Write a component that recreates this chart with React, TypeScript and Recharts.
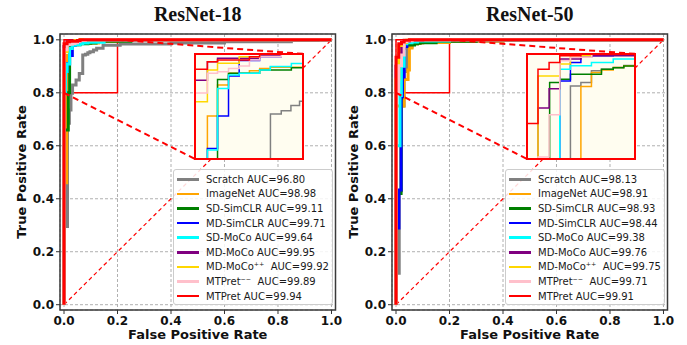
import React from "react";
import {
  LineChart,
  Line,
  XAxis,
  YAxis,
  CartesianGrid,
  ReferenceArea,
  ReferenceLine,
  Legend,
} from "recharts";

const SERIES_NAMES = [
  "Scratch",
  "ImageNet",
  "SD-SimCLR",
  "MD-SimCLR",
  "SD-MoCo",
  "MD-MoCo",
  "MD-MoCo⁺⁺",
  "MTPret⁻⁻",
  "MTPret",
];
const SERIES_COLORS = [
  "#808080",
  "#ffa500",
  "#008000",
  "#0000ff",
  "#00ffff",
  "#800080",
  "#ffd700",
  "#ffc0cb",
  "#ff0000",
];
const AUC_R18 = [96.8, 98.98, 99.11, 99.71, 99.64, 99.95, 99.92, 99.89, 99.94];
const AUC_R50 = [98.13, 98.91, 98.93, 98.44, 99.38, 99.76, 99.75, 99.71, 99.91];
const TICKS = [0, 0.2, 0.4, 0.6, 0.8, 1.0];

// ROC points [fpr, tpr], step-after: at fpr the curve jumps up to tpr
const R18_SCRATCH = [[0, 0], [0, 0.295], [0.013, 0.685], [0.02, 0.735], [0.026, 0.798], [0.032, 0.829], [0.045, 0.848], [0.057, 0.873], [0.07, 0.943], [0.08, 0.946], [0.089, 0.951], [0.097, 0.955], [0.11, 0.962], [0.122, 0.968], [0.146, 0.98], [0.21, 0.984], [0.4, 0.988], [0.6, 0.993], [0.85, 0.997], [0.95, 1], [1, 1]];
const R18_IMAGENET = [[0, 0], [0, 0.46], [0.01, 0.89], [0.0115, 0.941], [0.0209, 0.9705], [0.0311, 0.9816], [0.0505, 0.9841], [0.06, 0.9863], [0.07, 0.9873], [0.1, 0.988], [0.13, 0.995], [0.2, 1], [1, 1]];
const R18_SD_SIMCLR = [[0, 0], [0, 0.66], [0.016, 0.8], [0.0209, 0.9758], [0.0311, 0.9816], [0.06, 0.9848], [0.0894, 0.987], [0.1, 0.988], [0.12, 0.995], [0.25, 1], [1, 1]];
const R18_MD_SIMCLR = [[0, 0], [0, 0.8], [0.006, 0.88], [0.0115, 0.9101], [0.0209, 0.941], [0.0311, 0.979], [0.041, 0.9937], [0.06, 0.9975], [0.08, 1], [1, 1]];
const R18_SD_MOCO = [[0, 0], [0, 0.8], [0.006, 0.88], [0.0115, 0.9086], [0.0209, 0.9673], [0.0311, 0.98], [0.041, 0.9816], [0.06, 0.9848], [0.0698, 0.988], [0.0894, 0.991], [0.15, 1], [1, 1]];
const R18_MD_MOCO = [[0, 0], [0, 0.975], [0.0115, 0.9927], [0.0209, 0.9959], [0.06, 0.998], [0.08, 1], [1, 1]];
const R18_MD_MOCOPP = [[0, 0], [0, 0.9546], [0.0115, 0.9848], [0.0209, 0.9911], [0.041, 0.9975], [0.06, 1], [1, 1]];
const R18_MTPRET_MM = [[0, 0], [0, 0.963], [0.0115, 0.9816], [0.0209, 0.983], [0.0311, 0.9863], [0.041, 0.9886], [0.0505, 0.9943], [0.06, 0.9975], [0.08, 1], [1, 1]];
const R18_MTPRET = [[0, 0], [0, 0.9854], [0.0115, 0.9927], [0.0209, 0.9943], [0.0505, 0.9975], [0.06, 1], [1, 1]];

const R50_SCRATCH = [[0, 0], [0, 0.119], [0.012, 0.43], [0.02, 0.75], [0.03, 0.88], [0.0403, 0.9696], [0.05, 0.9728], [0.0598, 0.984], [0.0691, 0.9856], [0.08, 0.9872], [0.0898, 0.989], [0.1, 0.99], [0.2, 0.995], [0.4, 0.998], [0.6, 1], [1, 1]];
const R50_IMAGENET = [[0, 0], [0, 0.75], [0.03, 0.85], [0.045, 0.886], [0.05, 0.969], [0.0598, 0.9824], [0.0691, 0.9848], [0.08, 0.9872], [0.0898, 0.9888], [0.1, 0.99], [0.2, 0.996], [0.4, 1], [1, 1]];
const R50_SD_SIMCLR = [[0, 0], [0, 0.42], [0.019, 0.78], [0.021, 0.9728], [0.0304, 0.976], [0.0403, 0.9808], [0.0691, 0.9856], [0.08, 0.987], [0.0898, 0.9885], [0.1, 0.989], [0.15, 0.995], [0.3, 1], [1, 1]];
const R50_MD_SIMCLR = [[0, 0], [0, 0.29], [0.011, 0.433], [0.019, 0.785], [0.024, 0.86], [0.0304, 0.9744], [0.0403, 0.992], [0.05, 0.9968], [0.0598, 0.9984], [0.08, 1], [1, 1]];
const R50_SD_MOCO = [[0, 0], [0, 0.6], [0.015, 0.79], [0.02, 0.9], [0.0304, 0.9856], [0.0403, 0.9888], [0.0598, 0.992], [0.08, 0.9952], [0.1, 0.996], [0.2, 1], [1, 1]];
const R50_MD_MOCO = [[0, 0], [0, 0.9], [0.0102, 0.9487], [0.0205, 0.967], [0.0304, 0.9952], [0.05, 0.9984], [0.1, 1], [1, 1]];
const R50_MD_MOCOPP = [[0, 0], [0, 0.85], [0.0102, 0.979], [0.0304, 0.9904], [0.0403, 0.9984], [0.06, 1], [1, 1]];
const R50_MTPRET_MM = [[0, 0], [0, 0.8], [0.0102, 0.902], [0.0205, 0.9423], [0.0304, 0.9936], [0.0403, 0.9968], [0.06, 1], [1, 1]];
const R50_MTPRET = [[0, 0], [0, 0.934], [0.0102, 0.9856], [0.0205, 0.992], [0.0304, 0.9984], [0.05, 1], [1, 1]];

const R18_CURVES = [R18_SCRATCH, R18_IMAGENET, R18_SD_SIMCLR, R18_MD_SIMCLR, R18_SD_MOCO, R18_MD_MOCO, R18_MD_MOCOPP, R18_MTPRET_MM, R18_MTPRET];
const R50_CURVES = [R50_SCRATCH, R50_IMAGENET, R50_SD_SIMCLR, R50_MD_SIMCLR, R50_SD_MOCO, R50_MD_MOCO, R50_MD_MOCOPP, R50_MTPRET_MM, R50_MTPRET];

// layout
const PANEL_W = 343;
const PANEL_H = 345;
const PLOT_L = 60;
const PLOT_R = 335.5;
const PLOT_T = 34;
const PLOT_B = 310;
const X_DOMAIN = [-0.015, 1.015];
const Y_DOMAIN = [-0.02, 1.022];
const ZOOM_BOX = { x1: 0, x2: 0.2, y1: 0.8, y2: 1 };
const INSET_BOX = { x1: 0.49, x2: 0.893, y1: 0.55, y2: 0.947 };
const INSET_X = [0, 0.1];
const INSET_Y = [0.9, 1.0];

const sx = (v: number) =>
  PLOT_L + ((v - X_DOMAIN[0]) / (X_DOMAIN[1] - X_DOMAIN[0])) * (PLOT_R - PLOT_L);
const sy = (v: number) =>
  PLOT_T + ((Y_DOMAIN[1] - v) / (Y_DOMAIN[1] - Y_DOMAIN[0])) * (PLOT_B - PLOT_T);

const toRows = (pts: number[][]) => pts.map(([x, y]) => ({ x, y }));

const tickStyle = { fill: "#111", fontSize: 12, fontWeight: 700, fontFamily: "DejaVu Sans" };

function LegendBox({ aucs }: { aucs: number[] }) {
  return (
    <div
      style={{
        width: 160,
        height: 136,
        boxSizing: "border-box",
        background: "rgba(255,255,255,0.85)",
        border: "1px solid #cccccc",
        borderRadius: 3,
        paddingTop: 2,
        fontFamily: "DejaVu Sans",
        fontSize: 10,
        color: "#1a1a1a",
      }}
    >
      {SERIES_NAMES.map((name, i) => (
        <div key={name} style={{ display: "flex", alignItems: "center", height: 14.6 }}>
          <span
            style={{
              display: "inline-block",
              width: 22,
              height: 2.5,
              marginLeft: 3,
              marginRight: 7,
              background: SERIES_COLORS[i],
            }}
          />
          <span style={{ whiteSpace: "pre" }}>
            {name}
            {name.endsWith("⁺") || name.endsWith("⁻") ? "  " : " "}
            AUC={aucs[i].toFixed(2)}
          </span>
        </div>
      ))}
    </div>
  );
}

function Panel({ left, title, curves, aucs }: { left: number; title: string; curves: number[][][]; aucs: number[] }) {
  const il = sx(INSET_BOX.x1);
  const ir = sx(INSET_BOX.x2);
  const it = sy(INSET_BOX.y2);
  const ib = sy(INSET_BOX.y1);
  const iw = ir - il;
  const ih = ib - it;

  return (
    <div style={{ position: "absolute", left, top: 0, width: PANEL_W, height: PANEL_H }}>
      <LineChart
        width={PANEL_W}
        height={PANEL_H}
        margin={{ top: PLOT_T, right: PANEL_W - PLOT_R, bottom: 5, left: 20 }}
      >
        <CartesianGrid strokeDasharray="3 2" stroke="#b0b0b0" />
        <XAxis
          type="number"
          dataKey="x"
          domain={X_DOMAIN}
          ticks={TICKS}
          allowDataOverflow
          height={30}
          axisLine={false}
          tickSize={4}
          tickLine={{ stroke: "#333" }}
          tick={tickStyle}
          tickFormatter={(v: number) => v.toFixed(1)}
        />
        <YAxis
          type="number"
          dataKey="y"
          domain={Y_DOMAIN}
          ticks={TICKS}
          allowDataOverflow
          width={40}
          axisLine={false}
          tickSize={4}
          tickLine={{ stroke: "#333" }}
          tick={tickStyle}
          tickFormatter={(v: number) => v.toFixed(1)}
        />
        <ReferenceLine
          segment={[{ x: 0, y: 0 }, { x: 1, y: 1 }]}
          stroke="#ff0000"
          strokeWidth={1.2}
          strokeDasharray="4 3"
        />
        {curves.map((pts, i) => (
          <Line
            key={SERIES_NAMES[i]}
            name={SERIES_NAMES[i]}
            data={toRows(pts)}
            dataKey="y"
            type="stepAfter"
            stroke={SERIES_COLORS[i]}
            strokeWidth={3}
            dot={false}
            isAnimationActive={false}
          />
        ))}
        <ReferenceArea
          x1={ZOOM_BOX.x1}
          x2={ZOOM_BOX.x2}
          y1={ZOOM_BOX.y1}
          y2={ZOOM_BOX.y2}
          fill="none"
          fillOpacity={0}
          stroke="#ff0000"
          strokeWidth={1.5}
        />
        <ReferenceLine
          segment={[{ x: ZOOM_BOX.x2, y: ZOOM_BOX.y2 }, { x: INSET_BOX.x2, y: INSET_BOX.y2 }]}
          stroke="#ff0000"
          strokeWidth={2}
          strokeDasharray="6 4"
        />
        <ReferenceLine
          segment={[{ x: ZOOM_BOX.x1, y: ZOOM_BOX.y1 }, { x: INSET_BOX.x1, y: INSET_BOX.y1 }]}
          stroke="#ff0000"
          strokeWidth={2}
          strokeDasharray="6 4"
        />
        <ReferenceArea
          x1={X_DOMAIN[0]}
          x2={X_DOMAIN[1]}
          y1={Y_DOMAIN[0]}
          y2={Y_DOMAIN[1]}
          fill="none"
          fillOpacity={0}
          stroke="#3a3a3a"
          strokeWidth={1.5}
        />
        <Legend
          layout="vertical"
          align="center"
          verticalAlign="middle"
          wrapperStyle={{ left: 173, top: 169, width: 160, height: 136 }}
          content={() => <LegendBox aucs={aucs} />}
        />
      </LineChart>

      <div
        style={{
          position: "absolute",
          left: il,
          top: it,
          width: iw,
          height: ih,
          background: "#fffdf0",
        }}
      >
        <LineChart width={iw} height={ih} margin={{ top: 0, right: 0, bottom: 0, left: 0 }}>
          <XAxis type="number" dataKey="x" domain={INSET_X} allowDataOverflow hide />
          <YAxis type="number" dataKey="y" domain={INSET_Y} allowDataOverflow hide />
          {curves.map((pts, i) => (
            <Line
              key={SERIES_NAMES[i]}
              data={toRows(pts)}
              dataKey="y"
              type="stepAfter"
              stroke={SERIES_COLORS[i]}
              strokeWidth={1.5}
              dot={false}
              isAnimationActive={false}
            />
          ))}
        </LineChart>
        <div
          style={{
            position: "absolute",
            left: -1,
            top: -1,
            right: -1,
            bottom: -1,
            border: "2px solid #ff0000",
          }}
        />
      </div>

      <div
        style={{
          position: "absolute",
          left: PLOT_L,
          width: PLOT_R - PLOT_L,
          top: 3,
          textAlign: "center",
          fontFamily: "Liberation Serif",
          fontWeight: 700,
          fontSize: 20,
          lineHeight: "22px",
          color: "#111",
        }}
      >
        {title}
      </div>
      <div
        style={{
          position: "absolute",
          left: PLOT_L,
          width: PLOT_R - PLOT_L,
          top: 327,
          textAlign: "center",
          fontFamily: "DejaVu Sans",
          fontWeight: 700,
          fontSize: 13,
          lineHeight: "16px",
          color: "#111",
        }}
      >
        False Positive Rate
      </div>
      <div
        style={{
          position: "absolute",
          left: 22 - 100,
          top: (PLOT_T + PLOT_B) / 2 - 8,
          width: 200,
          textAlign: "center",
          transform: "rotate(-90deg)",
          fontFamily: "DejaVu Sans",
          fontWeight: 700,
          fontSize: 13,
          lineHeight: "16px",
          color: "#111",
        }}
      >
        True Positive Rate
      </div>
    </div>
  );
}

export default function App() {
  return (
    <div
      style={{
        position: "absolute",
        left: 0,
        top: 0,
        width: 687,
        height: 345,
        background: "#fff",
        overflow: "hidden",
      }}
    >
      <Panel left={0} title="ResNet-18" curves={R18_CURVES} aucs={AUC_R18} />
      <Panel left={332} title="ResNet-50" curves={R50_CURVES} aucs={AUC_R50} />
    </div>
  );
}
